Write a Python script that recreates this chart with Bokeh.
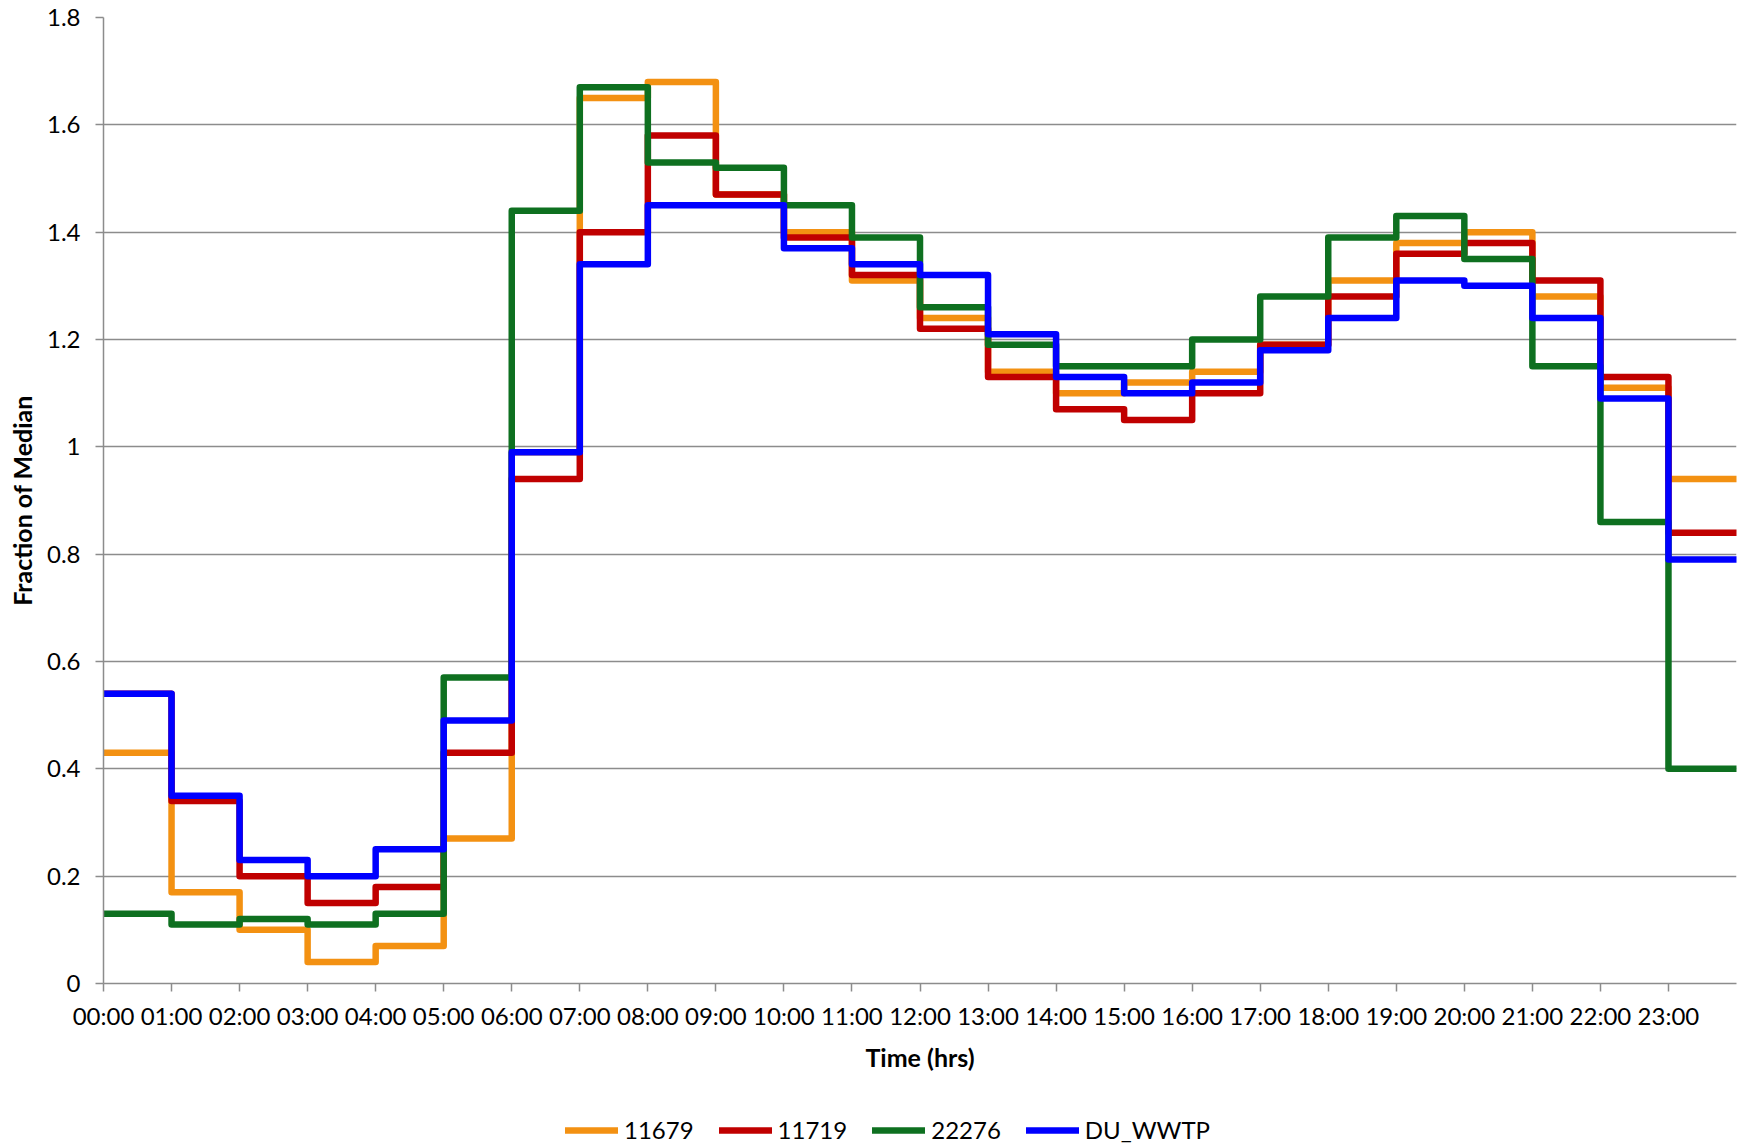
from bokeh.plotting import figure
from bokeh.models import Range1d, FixedTicker, Legend, LegendItem
from bokeh.layouts import column
from bokeh.embed import file_html
from bokeh.resources import INLINE

# ---- data ----
hours = list(range(24))
hour_labels = ["%02d:00" % h for h in hours]
y_ticks = [0, 0.2, 0.4, 0.6, 0.8, 1.0, 1.2, 1.4, 1.6, 1.8]
y_tick_labels = ["0", "0.2", "0.4", "0.6", "0.8", "1", "1.2", "1.4", "1.6", "1.8"]

series_names = ["11679", "11719", "22276", "DU_WWTP"]
s11679 = [0.43, 0.17, 0.10, 0.04, 0.07, 0.27, 0.99, 1.65, 1.68, 1.47, 1.40, 1.31,
          1.24, 1.14, 1.10, 1.12, 1.14, 1.19, 1.31, 1.38, 1.40, 1.28, 1.11, 0.94]
s11719 = [0.54, 0.34, 0.20, 0.15, 0.18, 0.43, 0.94, 1.40, 1.58, 1.47, 1.39, 1.32,
          1.22, 1.13, 1.07, 1.05, 1.10, 1.19, 1.28, 1.36, 1.38, 1.31, 1.13, 0.84]
s22276 = [0.13, 0.11, 0.12, 0.11, 0.13, 0.57, 1.44, 1.67, 1.53, 1.52, 1.45, 1.39,
          1.26, 1.19, 1.15, 1.15, 1.20, 1.28, 1.39, 1.43, 1.35, 1.15, 0.86, 0.40]
du_wwtp = [0.54, 0.35, 0.23, 0.20, 0.25, 0.49, 0.99, 1.34, 1.45, 1.45, 1.37, 1.34,
           1.32, 1.21, 1.13, 1.10, 1.12, 1.18, 1.24, 1.31, 1.30, 1.24, 1.09, 0.79]
colors = ["#F39112", "#C00000", "#0E7020", "#0000FF"]

FONT = "Lato"
GRID = "#8C8C8C"
LW = 6.5

p = figure(width=1738, height=1110, x_range=Range1d(0, 24), y_range=Range1d(0, 1.8),
           output_backend="svg", toolbar_location=None,
           min_border_left=103, min_border_right=2, min_border_top=17, min_border_bottom=127)
p.outline_line_color = None
p.background_fill_color = "white"

p.xgrid.visible = False
p.ygrid.grid_line_color = GRID
p.ygrid.grid_line_width = 1.5
p.ygrid.ticker = FixedTicker(ticks=y_ticks)

# axes
p.xaxis.ticker = FixedTicker(ticks=hours)
p.xaxis.major_label_overrides = {h: lbl for h, lbl in zip(hours, hour_labels)}
p.yaxis.ticker = FixedTicker(ticks=y_ticks)
p.yaxis.major_label_overrides = {t: lbl for t, lbl in zip(y_ticks, y_tick_labels)}
for ax in (p.xaxis[0], p.yaxis[0]):
    ax.axis_line_color = GRID
    ax.axis_line_width = 1.5
    ax.major_tick_line_color = GRID
    ax.major_tick_line_width = 1.5
    ax.major_tick_out = 8
    ax.major_tick_in = 0
    ax.minor_tick_line_color = None
    ax.major_label_text_font = FONT
    ax.major_label_text_font_size = "24px"
    ax.major_label_text_color = "#000000"
    ax.axis_label_text_font = FONT
    ax.axis_label_text_font_style = "bold"
    ax.axis_label_text_color = "#000000"
    ax.axis_label_text_font_size = "25px"

p.xaxis.axis_label = "Time (hrs)"
p.xaxis.major_label_standoff = 9
p.xaxis.axis_label_standoff = 9
p.yaxis.axis_label = "Fraction of Median"
p.yaxis.major_label_standoff = 15
p.yaxis.axis_label_standoff = 7

# step lines
x_edges = hours + [24]
all_series = [s11679, s11719, s22276, du_wwtp]
for name, vals, col in zip(series_names, all_series, colors):
    p.step(x=x_edges, y=vals + [vals[-1]], mode="after", line_color=col,
           line_width=LW, line_join="round", line_cap="round")

# legend strip below the chart (its own renderers lie outside the visible range)
pl = figure(width=1738, height=37, x_range=Range1d(0, 24), y_range=Range1d(-10, -9),
            output_backend="svg", toolbar_location=None, x_axis_type=None, y_axis_type=None,
            min_border_left=0, min_border_right=0, min_border_top=0, min_border_bottom=0)
pl.outline_line_color = None
pl.xgrid.visible = False
pl.ygrid.visible = False
items = []
for name, vals, col in zip(series_names, all_series, colors):
    r = pl.step(x=x_edges, y=vals + [vals[-1]], mode="after", line_color=col,
                line_width=LW, line_cap="round")
    items.append(LegendItem(label=name, renderers=[r]))

legend = Legend(items=items, orientation="horizontal", location=(462, 3))
legend.padding = 0
legend.margin = 0
legend.spacing = 25
legend.label_standoff = 6
legend.glyph_width = 53
legend.glyph_height = 26
legend.label_height = 26
legend.label_text_font = FONT
legend.label_text_font_size = "24px"
legend.label_text_color = "#000000"
legend.border_line_color = None
legend.background_fill_alpha = 0
pl.add_layout(legend)

layout = column(p, pl, spacing=0)
open("out.html", "w").write(file_html(layout, INLINE))
